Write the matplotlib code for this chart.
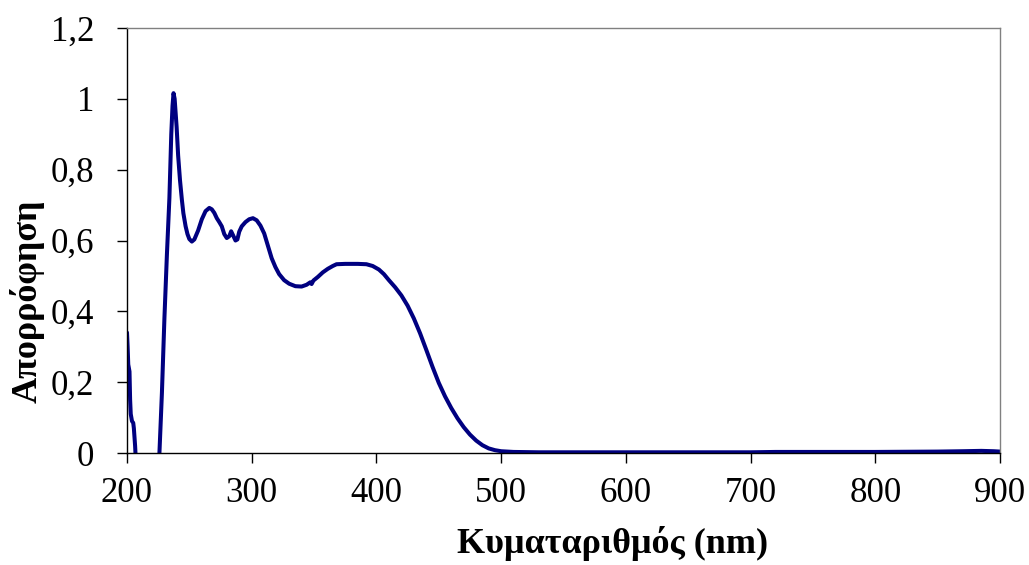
import matplotlib.pyplot as plt
import matplotlib.ticker as mticker

# wavelength (nm) and absorbance
wl = [200, 200.5, 201, 202, 202.5, 203, 204, 205, 205.5, 206.5, 207.5, 215, 224,
      226, 228, 230, 232, 234, 235.5, 236.5, 237.3, 238.2, 239.8, 241, 242.5, 244, 245.2,
      247, 248.5, 250, 252, 254, 257, 260, 263, 266, 268, 270, 272, 274, 276, 278, 280, 282,
      283.5, 285, 287, 288.5, 290, 292, 295, 298, 301, 304, 307, 310, 313, 316, 319, 322, 326,
      330, 335, 340, 344, 347, 348, 349.5, 353, 357, 361, 365, 368, 375, 385, 392, 397,
      402, 406, 410, 415, 420, 425, 430, 435, 440, 445, 450, 455, 460, 465, 470, 475,
      480, 485, 490, 495, 500, 510, 530, 600, 700, 720, 750, 800, 850, 870, 885, 895, 900]
absorb = [0.34, 0.30, 0.25, 0.23, 0.15, 0.11, 0.09, 0.085, 0.07, 0.02, -0.05, -0.05, -0.05,
          0.0, 0.17, 0.38, 0.56, 0.72, 0.9, 0.98, 1.016, 1.0, 0.92, 0.84, 0.77, 0.715, 0.677,
          0.64, 0.618, 0.604, 0.597, 0.603, 0.628, 0.66, 0.683, 0.692, 0.688, 0.678, 0.663,
          0.652, 0.64, 0.618, 0.607, 0.612, 0.626, 0.615, 0.60, 0.603, 0.625, 0.64, 0.652, 0.66,
          0.663, 0.657, 0.642, 0.62, 0.585, 0.55, 0.525, 0.505, 0.488, 0.478, 0.471, 0.47, 0.475,
          0.482, 0.477, 0.487, 0.497, 0.51, 0.52, 0.528, 0.533, 0.534, 0.534, 0.533, 0.528,
          0.518, 0.505, 0.488, 0.468, 0.445, 0.416, 0.38, 0.338, 0.291, 0.243, 0.198, 0.16,
          0.127, 0.098, 0.073, 0.052, 0.035, 0.022, 0.013, 0.008, 0.005, 0.003, 0.002, 0.002,
          0.002, 0.003, 0.003, 0.003, 0.004, 0.005, 0.006, 0.005, 0.004]

plt.rcParams['font.family'] = ['Liberation Serif', 'DejaVu Serif']

fig = plt.figure(figsize=(10.29, 5.65), dpi=100)
ax = fig.add_axes([127 / 1029, 1 - 453 / 565, (1000 - 127) / 1029, (453 - 28) / 565])

ax.plot(wl, absorb, color='#000080', lw=2.9, solid_capstyle='round', solid_joinstyle='round')

ax.set_xlim(200, 900)
ax.set_ylim(0, 1.2)
ax.set_xticks(range(200, 901, 100))
ax.set_yticks([0, 0.2, 0.4, 0.6, 0.8, 1.0, 1.2])
ax.yaxis.set_major_formatter(mticker.FuncFormatter(
    lambda v, p: '0' if v == 0 else ('1' if abs(v - 1) < 1e-9 else f'{v:.1f}'.replace('.', ','))))

ax.tick_params(direction='out', length=7.5, width=1, labelsize=25)
ax.tick_params(axis='x', pad=10)
ax.tick_params(axis='y', pad=16)
for s in ['left', 'bottom']:
    ax.spines[s].set_color('black')
    ax.spines[s].set_linewidth(1)
for s in ['top', 'right']:
    ax.spines[s].set_color('#808080')
    ax.spines[s].set_linewidth(1)

ax.set_xlabel('Κυματαριθμός (nm)', fontsize=26, fontweight='bold')
ax.set_ylabel('Απορρόφηση', fontsize=26, fontweight='bold')
ax.xaxis.set_label_coords(0.556, -0.172)
ax.yaxis.set_label_coords(-0.094, 0.358)

fig.savefig('out.png', dpi=100)
